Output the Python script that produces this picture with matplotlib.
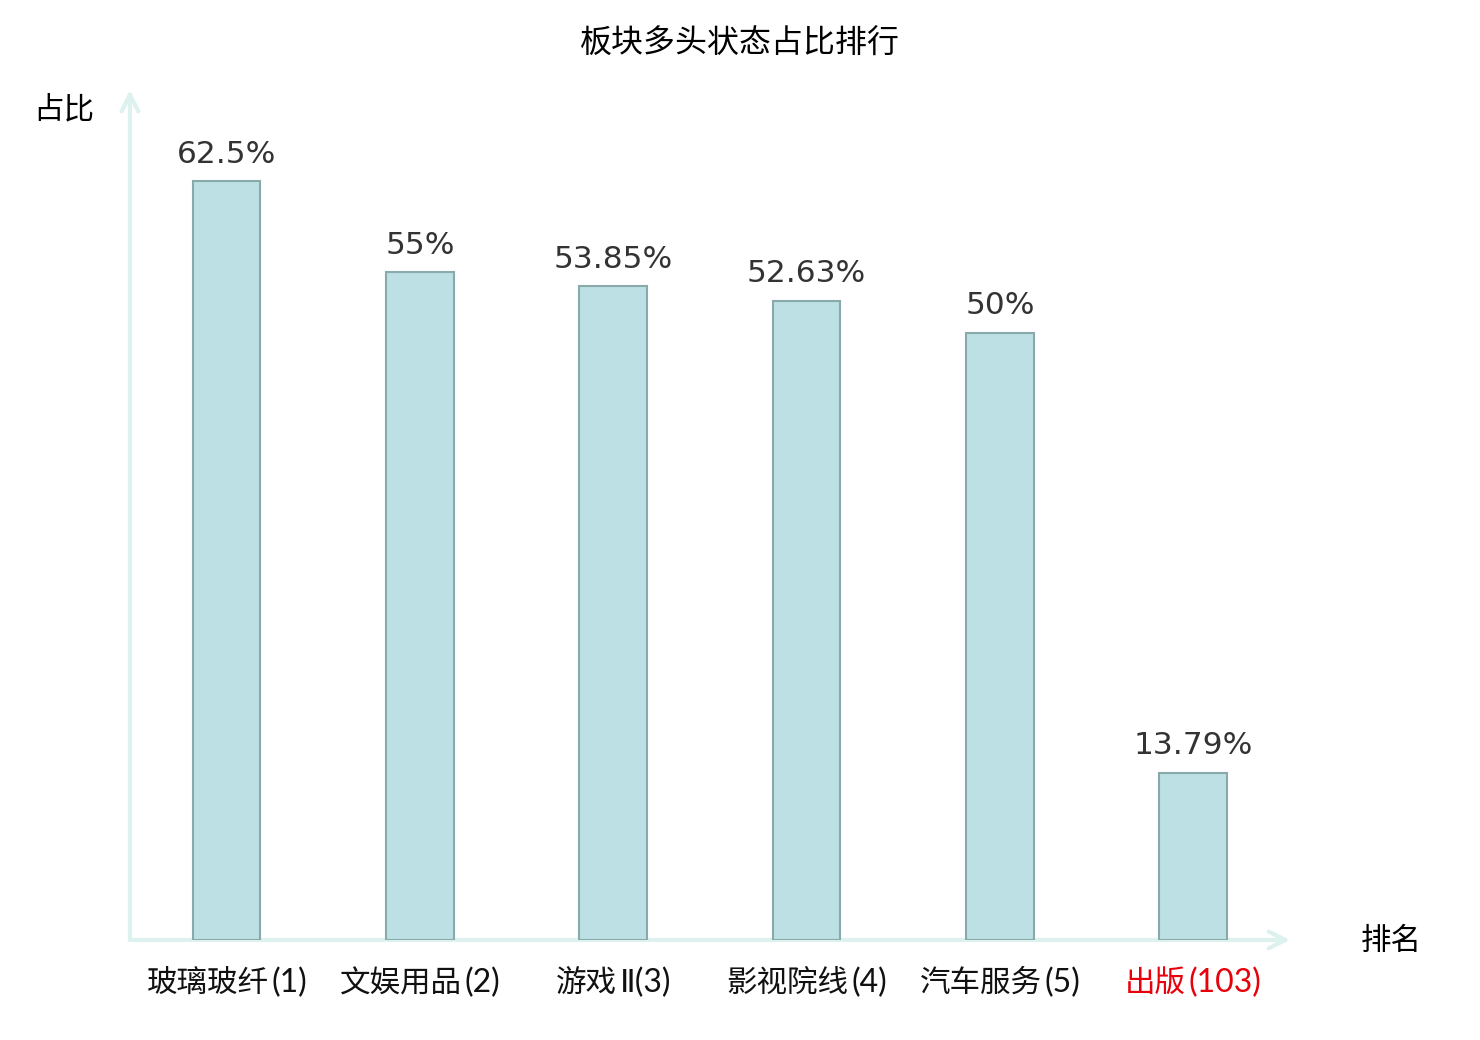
import matplotlib.pyplot as plt
from matplotlib.offsetbox import TextArea, HPacker, AnnotationBbox

plt.rcParams['font.family'] = ['Noto Sans CJK SC', 'DejaVu Sans']

# data
sectors = ['玻璃玻纤', '文娱用品', '游戏Ⅱ', '影视院线', '汽车服务', '出版']
ranks = [1, 2, 3, 4, 5, 103]
shares = [62.5, 55, 53.85, 52.63, 50, 13.79]
share_labels = ['62.5%', '55%', '53.85%', '52.63%', '50%', '13.79%']
highlight = '出版'

axis_color = '#ddf1ee'

fig = plt.figure(figsize=(14.8, 10.4), dpi=100)
ax = fig.add_axes([0.0878, 0.0962, 0.7838, 0.8173])

x = list(range(len(sectors)))
bars = ax.bar(x, shares, width=0.35, color='#bce0e3', edgecolor='#89a9aa', linewidth=1.5, zorder=3)

for rect, lab in zip(bars, share_labels):
    ax.annotate(lab, (rect.get_x() + rect.get_width() / 2, rect.get_height()),
                xytext=(0, 9), textcoords='offset points', ha='center', va='bottom',
                fontsize=22.5, color='#333333', family='DejaVu Sans')

ax.set_xlim(-0.5, len(sectors) - 0.5)
ax.set_ylim(0, 70)
for s in ax.spines.values():
    s.set_visible(False)
ax.set_yticks([])
ax.set_xticks([])

# category labels: chinese part in regular face, the rest in a thinner latin face
for i, (s, r) in enumerate(zip(sectors, ranks)):
    col = '#e8000b' if s == highlight else '#111111'
    cjk = s.rstrip('Ⅱ')
    tail = s[len(cjk):] + f'({r})'
    name = TextArea(cjk, textprops=dict(fontsize=22, color=col))
    rank = TextArea(tail, textprops=dict(fontsize=23, color=col, family=['Lato', 'DejaVu Sans']))
    box = HPacker(children=[name, rank], pad=0, sep=2, align='baseline')
    ab = AnnotationBbox(box, (i, 0), xybox=(0, -20), xycoords='data', boxcoords='offset points',
                        box_alignment=(0.5, 1.0), frameon=False, annotation_clip=False)
    ax.add_artist(ab)

# axis lines with open arrow heads
ax.annotate('', xy=(0, 1.0), xytext=(0, 0), xycoords='axes fraction',
            arrowprops=dict(arrowstyle='->', color=axis_color, lw=3, mutation_scale=30,
                            shrinkA=0, shrinkB=0), zorder=1)
ax.annotate('', xy=(1.0, 0), xytext=(0, 0), xycoords='axes fraction',
            arrowprops=dict(arrowstyle='->', color=axis_color, lw=3, mutation_scale=30,
                            shrinkA=0, shrinkB=0), zorder=1)

fig.text(0.5, 0.958, '板块多头状态占比排行', ha='center', va='center', fontsize=23)
fig.text(0.043, 0.894, '占比', ha='center', va='center', fontsize=22)
fig.text(0.94, 0.095, '排名', ha='center', va='center', fontsize=22)

fig.savefig('out.png')
